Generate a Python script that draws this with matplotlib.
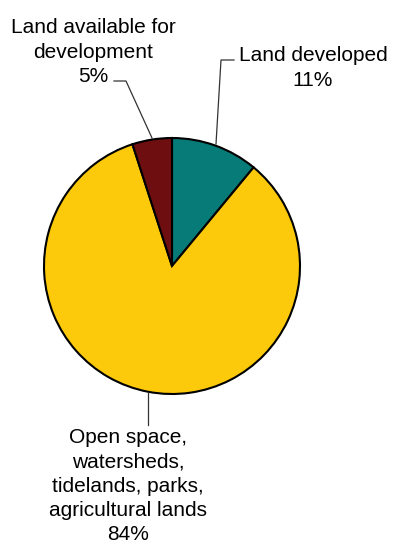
import matplotlib.pyplot as plt

plt.rcParams['font.family'] = ['Liberation Sans', 'DejaVu Sans']

labels = ["Land developed", "Open space,\nwatersheds,\ntidelands, parks,\nagricultural lands",
          "Land available for\ndevelopment"]
values = [11, 84, 5]
colors = ["#077B78", "#FCCA0A", "#6E0E10"]

W, H = 393, 544
fig = plt.figure(figsize=(W / 100, H / 100), dpi=100)
ax = fig.add_axes([0, 0, 1, 1])

cx, cy, r = 172, H - 266, 128
ax.pie(values, colors=colors, startangle=90, counterclock=False,
       center=(cx, cy), radius=r, frame=True,
       wedgeprops=dict(edgecolor="black", linewidth=1.5))
ax.set_xlim(0, W)
ax.set_ylim(0, H)
ax.set_aspect("equal")
ax.axis("off")

lc = "#333333"
# leader lines (pixel coords from top)
def leader(pts):
    xs = [p[0] for p in pts]
    ys = [H - p[1] for p in pts]
    ax.plot(xs, ys, color=lc, lw=0.9)

leader([(216, 144), (221, 60), (234, 60)])
leader([(152, 138), (126, 81), (114, 81)])
leader([(148, 393), (148, 425)])

fs = 15
ls = 1.34
ax.text(313, H - 68, f"{labels[0]}\n{values[0]}%", ha="center", va="center",
        fontsize=fs, linespacing=ls)
ax.text(93, H - 52, f"{labels[2]}\n{values[2]}%", ha="center", va="center",
        fontsize=fs, linespacing=ls)
ax.text(128, H - 486, f"{labels[1]}\n{values[1]}%", ha="center", va="center",
        fontsize=fs, linespacing=ls)

fig.savefig("out.png", dpi=100)
